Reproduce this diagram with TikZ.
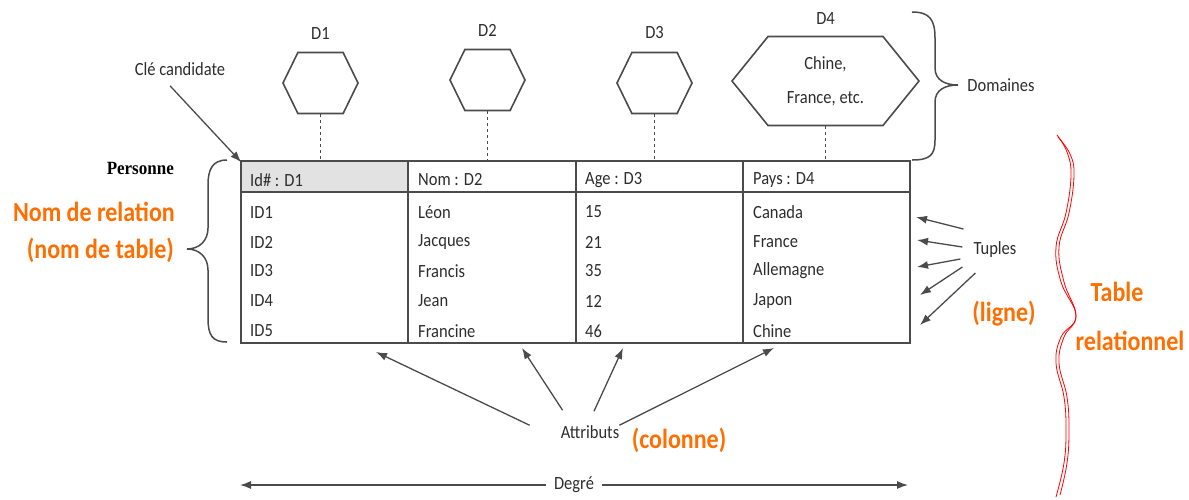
\documentclass[tikz,border=0pt]{standalone}
\usepackage{fontspec}
\setmainfont{Carlito}
\newfontfamily\titlefont{Liberation Serif}
\usetikzlibrary{shapes.symbols,arrows.meta}

\definecolor{encre}{RGB}{45,45,45}
\definecolor{trait}{RGB}{75,75,75}
\definecolor{orangec}{RGB}{255,110,0}
\definecolor{entete}{RGB}{226,226,226}

\tikzset{
  txt/.style={text=encre, font=\fontsize{16.5}{20}\selectfont, inner sep=0pt, yscale=1.13, transform shape},
  cell/.style={txt, anchor=west},
  note/.style={text=orangec, font=\fontsize{24}{28}\selectfont\bfseries, inner sep=0pt, yscale=1.15, transform shape},
  dom/.style={shape=signal, signal to=east and west, draw=trait, line width=1.6pt,
    inner sep=0pt, minimum height=61pt, minimum width=75pt, signal pointer angle=128},
  arr/.style={-{Latex[length=11pt,width=8pt]}, draw=trait, line width=1.3pt},
  lien/.style={draw=trait, dashed, line width=1.2pt},
  accolade/.style={draw=trait, line width=1.5pt},
}

\begin{document}
\begin{tikzpicture}[x=1pt,y=-1pt]
\useasboundingbox (0,0) rectangle (1189,499);

% domaines
\node[dom, label={[txt,label distance=11pt]above:D1}] (d1) at (320.5,83) {};
\node[dom, label={[txt,label distance=11pt]above:D2}] (d2) at (487.5,80) {};
\node[dom, label={[txt,label distance=11pt]above:D3}] (d3) at (654.5,83) {};
\node[dom, minimum height=89pt, minimum width=187pt, signal pointer angle=102,
  label={[txt,label distance=10pt]above:D4}] (d4) at (825.5,81) {};
\node[txt, align=center, font=\fontsize{16.5}{30}\selectfont] (d4txt) at (d4) {Chine,\\France, etc.};

% la table
\fill[entete] (241,161) rectangle (408,192);
\node[draw=trait, line width=1.6pt, minimum width=669pt, minimum height=182pt, inner sep=0pt] (tbl) at (575.5,252) {};
\draw[trait, line width=2.2pt] (241,192) -- (910,192);
\draw[trait, line width=1.5pt] (408,161) -- (408,343) (576,161) -- (576,343) (743,161) -- (743,343);

\node[cell] (h1) at (250,180) {Id\# : D1};
\node[cell] (h2) at (418,180) {Nom : D2};
\node[cell] (h3) at (585,180) {Age : D3};
\node[cell] (h4) at (753,180) {Pays : D4};

\node[cell] (id1) at (250,212) {ID1};
\node[cell] (id2) at (250,242) {ID2};
\node[cell] (id3) at (250,271) {ID3};
\node[cell] (id4) at (250,301) {ID4};
\node[cell] (id5) at (250,331) {ID5};

\node[cell] (nom1) at (418,212) {Léon};
\node[cell] (nom2) at (418,242) {Jacques};
\node[cell] (nom3) at (418,271) {Francis};
\node[cell] (nom4) at (418,301) {Jean};
\node[cell] (nom5) at (418,331) {Francine};

\node[cell] (age1) at (585,212) {15};
\node[cell] (age2) at (585,242) {21};
\node[cell] (age3) at (585,271) {35};
\node[cell] (age4) at (585,301) {12};
\node[cell] (age5) at (585,331) {46};

\node[cell] (pays1) at (753,212) {Canada};
\node[cell] (pays2) at (753,242) {France};
\node[cell] (pays3) at (753,271) {Allemagne};
\node[cell] (pays4) at (753,301) {Japon};
\node[cell] (pays5) at (753,331) {Chine};

\draw[lien] (d1.south) -- (d1.south |- tbl.north);
\draw[lien] (d2.south) -- (d2.south |- tbl.north);
\draw[lien] (d3.south) -- (d3.south |- tbl.north);
\draw[lien] (d4.south) -- (d4.south |- tbl.north);

% cle candidate
\node[txt] (cle) at (180,69) {Clé candidate};
\draw[arr] ([xshift=-10pt,yshift=-10pt]cle.south) -- ([xshift=1pt,yshift=-2pt]tbl.north west);

% accolade des domaines
\draw[accolade] (912,12) .. controls (930,12) and (935,20) .. (935,38) -- (935,68)
  .. controls (935,80) and (945,85) .. (958,85)
  .. controls (945,85) and (935,90) .. (935,102) -- (935,140)
  .. controls (935,155) and (930,160) .. (912,160);
\node[txt] (doms) at (1001,85) {Domaines};

% nom de relation
\node[anchor=east, inner sep=0pt, font=\titlefont\bfseries\fontsize{17}{20}\selectfont, yscale=1.1, transform shape] (pers) at (174,168) {Personne};
\node[note, anchor=east] (rel) at (175,212) {Nom de relation};
\node[note, anchor=east] (tab) at (174,250) {(nom de table)};
\draw[accolade] (227,160) .. controls (212,160) and (208,170) .. (208,185) -- (208,228)
  .. controls (208,240) and (200,249) .. (187,249)
  .. controls (200,249) and (208,258) .. (208,270) -- (208,318)
  .. controls (208,335) and (212,342) .. (227,342);

% tuples
\node[txt] (tup) at (995,250) {Tuples};
\coordinate (t1) at (916,217);
\coordinate (t2) at (917,240);
\coordinate (t3) at (917,267);
\coordinate (t4) at (920,295);
\coordinate (t5) at (920,325);
\draw[arr] ([xshift=-10pt,yshift=21pt]tup.west) -- (t1);
\draw[arr] ([xshift=-11pt,yshift=3pt]tup.west) -- (t2);
\draw[arr] ([xshift=-13pt,yshift=-9pt]tup.west) -- (t3);
\draw[arr] ([xshift=-11pt,yshift=-17pt]tup.west) -- (t4);
\draw[arr] ([xshift=2pt,yshift=-23pt]tup.west) -- (t5);
\node[note] (lig) at (1004,314) {(ligne)};

% table relationnelle
\draw[red, line width=0.8pt] plot[smooth, tension=0.7] coordinates {(1057,135) (1067,152) (1071,175) (1066,213) (1056,247) (1061,282) (1076,316) (1061,337) (1056,363) (1064,397) (1066,430) (1064,463) (1056,497)};
\draw[red, line width=0.8pt] plot[smooth, tension=0.7] coordinates {(1058,137) (1070,154) (1074,175) (1069,213) (1059,247) (1064,282) (1076,316) (1064,337) (1059,363) (1067,397) (1069,430) (1067,463) (1060,495)};
\node[note] (tr1) at (1117,292) {Table};
\node[note] (tr2) at (1130,341) {relationnel};

% attributs
\node[txt] (attr) at (590,432) {Attributs};
\coordinate (a1) at (376,352);
\coordinate (a2) at (522,348);
\coordinate (a3) at (623,348);
\coordinate (a4) at (774,348);
\draw[arr] ([xshift=-31pt]attr.north west) -- (a1);
\draw[arr] ([xshift=2pt,yshift=15pt]attr.north west) -- (a2);
\draw[arr] ([xshift=4pt,yshift=14pt]attr.north) -- (a3);
\draw[arr] (attr.north east) -- (a4);
\node[note] (col) at (679,440) {(colonne)};

% degre
\node[txt, inner xsep=8pt] (deg) at (574,485) {Degré};
\coordinate (dl) at (240,485);
\coordinate (dr) at (908,485);
\draw[arr] (deg) -- (dl);
\draw[arr] (deg) -- (dr);
\end{tikzpicture}
\end{document}
